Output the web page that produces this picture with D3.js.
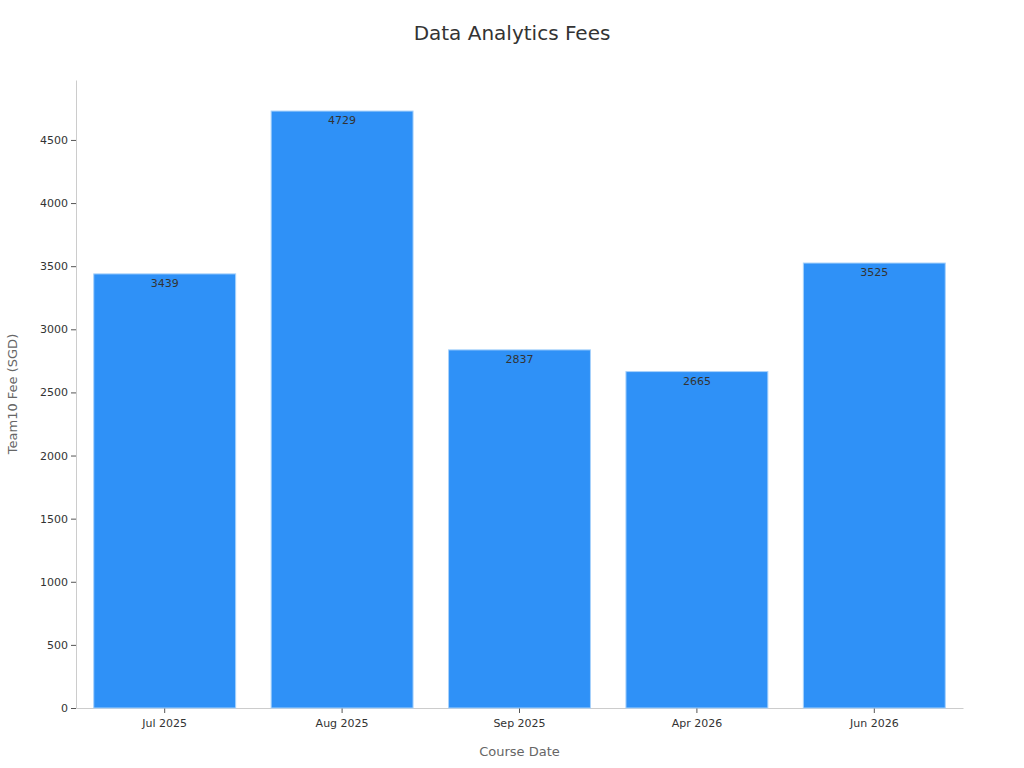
<!DOCTYPE html>
<html lang="en">
<head>
  <meta charset="UTF-8">
  <title>Data Analytics Fees</title>
  <style>
    body { margin: 0; background: #fff; font-family: "DejaVu Sans", sans-serif; }
    .axis text { font-size: 11px; fill: #333; font-family: "DejaVu Sans", sans-serif; }
    .axis path { stroke: #ccc; }
    .axis line { stroke: #555; }
  </style>
</head>
<body>
  <svg width="1024" height="768"></svg>
  <script src="https://d3js.org/d3.v7.min.js"></script>
  <script>
    const dates = ["Jul 2025", "Aug 2025", "Sep 2025", "Apr 2026", "Jun 2026"];
    const fees = [3439, 4729, 2837, 2665, 3525];
    const yTicks = [0, 500, 1000, 1500, 2000, 2500, 3000, 3500, 4000, 4500];

    const margin = { top: 80, right: 61, bottom: 60, left: 76 };
    const width = 1024 - margin.left - margin.right;
    const height = 768 - margin.top - margin.bottom;

    const svg = d3.select("svg");
    const g = svg.append("g")
      .attr("transform", "translate(" + margin.left + "," + margin.top + ")");

    const x = d3.scaleBand()
      .domain(dates)
      .range([0, width])
      .paddingInner(0.2)
      .paddingOuter(0.1);

    const y = d3.scaleLinear()
      .domain([0, d3.max(fees) * 1.052])
      .range([height, 0]);

    // axes
    g.append("g")
      .attr("class", "axis")
      .attr("transform", "translate(0," + height + ")")
      .call(d3.axisBottom(x).tickSize(5).tickPadding(6).tickSizeOuter(0))
      .attr("font-family", null);

    g.append("g")
      .attr("class", "axis")
      .call(d3.axisLeft(y).tickValues(yTicks).tickFormat(d3.format("d")).tickSize(5).tickPadding(3).tickSizeOuter(0))
      .attr("font-family", null);

    // bars
    const data = dates.map((d, i) => ({ date: d, fee: fees[i] }));

    g.selectAll(".bar")
      .data(data)
      .enter()
      .append("rect")
      .attr("class", "bar")
      .attr("x", d => x(d.date))
      .attr("y", d => y(d.fee))
      .attr("width", x.bandwidth())
      .attr("height", d => height - y(d.fee))
      .attr("fill", "#2f91f7")
      .attr("stroke", "#a8d2fb")
      .attr("stroke-width", 1);

    g.selectAll(".label")
      .data(data)
      .enter()
      .append("text")
      .attr("class", "label")
      .attr("x", d => x(d.date) + x.bandwidth() / 2)
      .attr("y", d => y(d.fee) + 13)
      .attr("text-anchor", "middle")
      .style("font-size", "11px")
      .style("fill", "#333")
      .text(d => d.fee);

    // title and axis labels
    svg.append("text")
      .attr("x", 512)
      .attr("y", 40)
      .attr("text-anchor", "middle")
      .style("font-size", "20px")
      .style("fill", "#333")
      .text("Data Analytics Fees");

    svg.append("text")
      .attr("x", margin.left + width / 2)
      .attr("y", 756)
      .attr("text-anchor", "middle")
      .style("font-size", "13px")
      .style("fill", "#666")
      .text("Course Date");

    svg.append("text")
      .attr("transform", "translate(17," + (margin.top + height / 2) + ") rotate(-90)")
      .attr("text-anchor", "middle")
      .style("font-size", "13px")
      .style("fill", "#666")
      .text("Team10 Fee (SGD)");
  </script>
</body>
</html>
